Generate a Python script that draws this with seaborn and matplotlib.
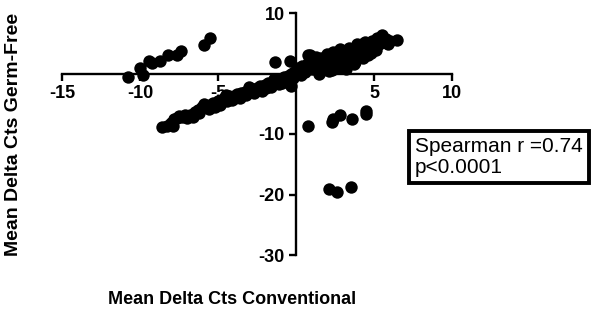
import matplotlib
matplotlib.use("Agg")
import matplotlib.pyplot as plt
import seaborn as sns
import pandas as pd

# main diagonal band, lower-left half
low_x = [-8.6, -8.3, -8.0, -7.8, -7.6, -7.3, -7.1, -6.8, -6.5, -6.3, -6.0, -5.8,
         -5.5, -5.3, -5.0, -4.8, -4.6, -4.3, -4.0, -3.8, -3.5, -3.3, -3.0, -2.8,
         -2.5, -2.3, -2.0, -1.8, -1.5, -1.3, -1.0, -0.8, -0.5, -0.3, -0.1, -0.6,
         -1.1, -2.2, -3.6, -5.2, -6.6, -7.9, -0.4, -0.3, -4.4, -2.7, -1.6, -0.9,
         -7.0, -6.2, -5.6, -4.9, -4.1, -3.2, -2.4, -1.9, -1.2, -0.7, -0.2, -3.9,
         -7.5, -5.9, -4.5, -3.0, -1.4]
low_y = [-8.9, -8.7, -8.2, -7.6, -7.4, -7.2, -6.9, -6.8, -6.4, -6.1, -5.6, -5.5,
         -5.2, -4.8, -4.5, -4.6, -4.1, -3.8, -3.7, -3.4, -3.2, -3.0, -2.8, -2.5,
         -2.4, -2.0, -1.9, -1.6, -1.4, -1.0, -0.9, -0.5, -0.4, -0.1, 0.2, -1.2,
         -1.8, -2.9, -4.0, -5.6, -7.2, -8.6, -1.3, -2.0, -4.6, -3.2, -2.2, -1.5,
         -7.4, -6.6, -5.9, -5.2, -4.3, -3.6, -2.7, -2.4, -1.6, -0.9, -0.8, -4.0,
         -7.0, -5.1, -3.6, -2.3, -0.9]

# main diagonal band, upper-right half
up_x = [0.2, 0.4, 0.6, 0.8, 0.9, 1.0, 1.2, 1.4, 1.5, 1.6, 1.8, 2.0, 2.1, 2.2,
        2.4, 2.5, 2.6, 2.8, 2.9, 3.0, 3.1, 3.3, 3.4, 3.5, 3.6, 3.8, 3.9, 4.0,
        4.1, 4.3, 4.4, 4.5, 4.6, 4.8, 4.9, 5.0, 5.2, 5.3, 5.5, 5.6, 5.8, 6.0,
        6.5, 3.2, 3.7, 2.3, 1.1, 0.5, 1.7, 2.7, 4.2, 5.1, 0.1, 0.3,
        1.3, 1.9, 2.5, 3.0, 3.6, 4.2, 4.7, 5.4, 2.0, 2.9, 3.8, 4.6, 1.5, 5.9,
        0.7, 1.0, 2.2, 3.3, 4.0, 5.0]
up_y = [0.5, 1.2, 0.3, 1.8, 3.0, 0.8, 2.0, 1.2, -0.1, 2.6, 1.5, 3.2, 0.4, 2.2,
        3.6, 1.2, 2.8, 4.0, 1.0, 2.2, 3.5, 1.6, 4.2, 2.8, 3.6, 1.9, 4.8, 3.0,
        4.2, 2.6, 5.2, 3.8, 4.6, 3.4, 5.4, 4.4, 5.8, 4.8, 6.3, 5.2, 5.7, 5.4,
        5.5, 0.8, 1.5, 0.5, 1.6, 0.9, 0.6, 2.0, 4.9, 3.9, 0.9, -0.3,
        2.8, 2.4, 2.0, 3.0, 2.4, 3.4, 4.0, 5.0, 1.4, 3.6, 2.8, 3.0, 2.2, 4.8,
        1.4, 2.4, 3.0, 2.6, 4.0, 5.2]

# off-diagonal groups
upper_left_x = [-10.8, -10.0, -9.8, -9.4, -9.2, -8.7, -8.2, -7.6, -7.4, -5.9, -5.5]
upper_left_y = [-0.5, 0.9, -0.2, 2.1, 1.7, 2.0, 3.0, 3.1, 3.8, 4.7, 5.8]

lower_right_x = [0.8, 2.3, 2.4, 2.8, 3.6, 4.5, 4.5, 2.1, 2.6, 3.5]
lower_right_y = [-8.7, -8.0, -7.6, -6.9, -7.5, -6.7, -6.2, -19.1, -19.6, -18.7]

near_axis_x = [-1.35, -0.4, 0.8, 2.9, 1.5]
near_axis_y = [1.9, 2.0, 3.1, 1.0, 0.2]

x_ticks = [-15, -10, -5, 5, 10]
y_ticks = [-30, -20, -10, 10]

df = pd.DataFrame({
    "conv": low_x + up_x + upper_left_x + lower_right_x + near_axis_x,
    "gf": low_y + up_y + upper_left_y + lower_right_y + near_axis_y,
})

sns.set_style("ticks")
plt.rcParams["font.family"] = ["Liberation Sans", "DejaVu Sans"]
plt.rcParams["axes.unicode_minus"] = False
plt.rcParams["text.color"] = "black"
plt.rcParams["xtick.color"] = "black"
plt.rcParams["ytick.color"] = "black"

fig = plt.figure(figsize=(5.99, 3.27), dpi=100)
ax = fig.add_axes([62 / 599, 1 - 255 / 327, 390 / 599, 242 / 327])

sns.scatterplot(data=df, x="conv", y="gf", ax=ax, color="black",
                s=80, edgecolor="black", linewidth=0, legend=False)

ax.set_xlim(-15, 10)
ax.set_ylim(-30, 10)
ax.spines["left"].set_position(("data", 0))
ax.spines["bottom"].set_position(("data", 0))
ax.spines["right"].set_visible(False)
ax.spines["top"].set_visible(False)
for s in ["left", "bottom"]:
    ax.spines[s].set_linewidth(1.7)
    ax.spines[s].set_color("black")
ax.set_xticks(x_ticks)
ax.set_yticks(y_ticks)
ax.tick_params(direction="out", length=5, width=1.7, labelsize=13, pad=3)
for lbl in ax.get_xticklabels() + ax.get_yticklabels():
    lbl.set_fontweight("bold")
ax.set_xlabel("")
ax.set_ylabel("")

fig.text(14 / 599, 1 - 134 / 327, "Mean Delta Cts Germ-Free", rotation=90,
         ha="center", va="center", fontsize=14, fontweight="bold")
fig.text(232 / 599, 1 - 300 / 327, "Mean Delta Cts Conventional",
         ha="center", va="center", fontsize=13, fontweight="bold")

fig.text(415 / 599, 1 - 157 / 327, "Spearman r =0.74\np<0.0001",
         ha="left", va="center", fontsize=15, linespacing=1.1,
         bbox=dict(boxstyle="square,pad=0.3", fc="white", ec="black", lw=2.8))

fig.savefig("out.png", dpi=100)
